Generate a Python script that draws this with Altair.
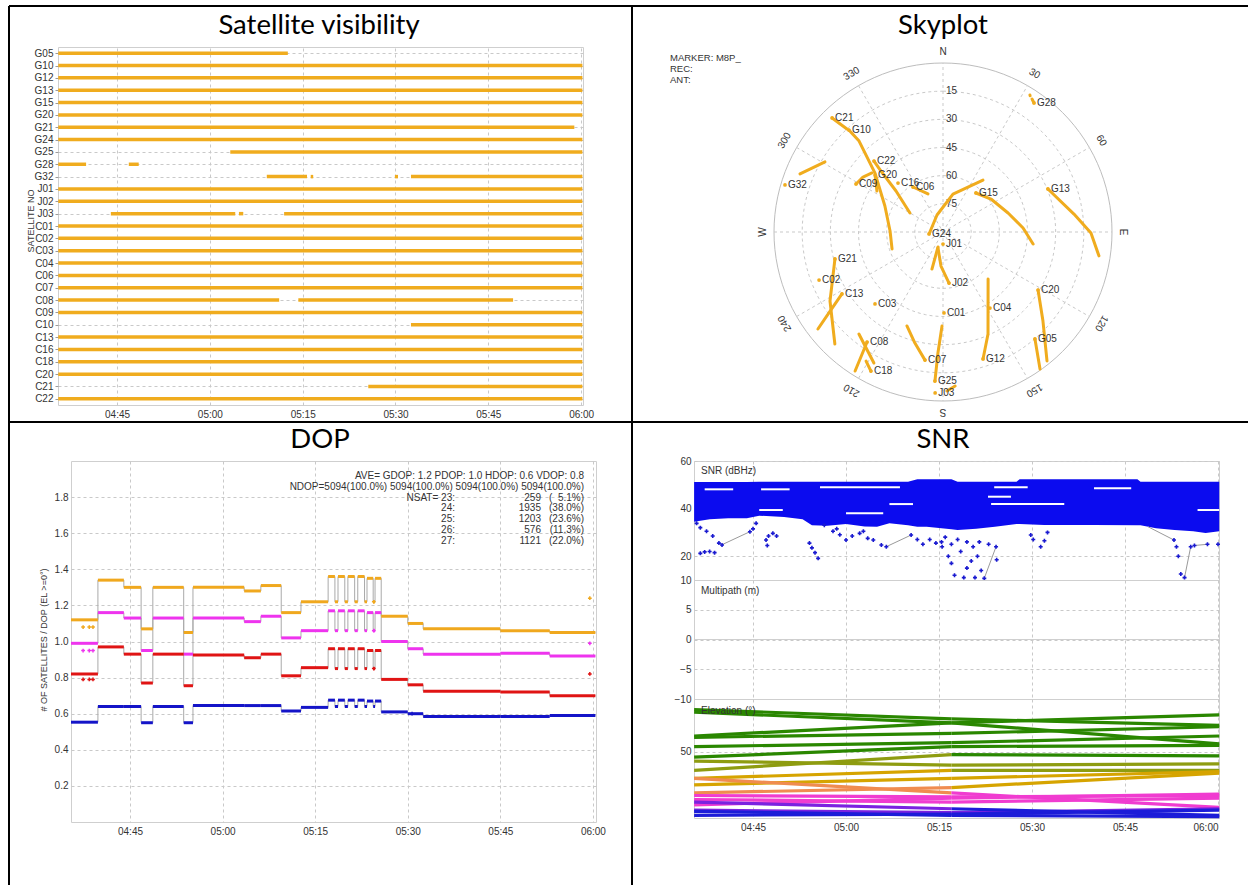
import altair as alt
import pandas as pd

# ---------------- style
FONT = "Liberation Sans"
TFONT = "Lato"
TXT = "#333333"
GRID = "#c9c9c9"
FRAME = "#cfcfcf"
ORANGE = "#F0AC1E"
BLUE = "#0b0bef"

TICKS = [45, 60, 75, 90, 105, 120]          # minutes after 04:00
LBL = "timeFormat(datetime(2000, 0, 1, 4, datum.value), '%H:%M')"

# ---------------- Panel 1: satellite visibility
SATS = ["G05", "G10", "G12", "G13", "G15", "G20", "G21", "G24", "G25", "G28", "G32",
        "J01", "J02", "J03", "C01", "C02", "C03", "C04", "C06", "C07", "C08", "C09",
        "C10", "C13", "C16", "C18", "C20", "C21", "C22"]
VIS_SAT = ["G05", "G10", "G12", "G13", "G15", "G20", "G21", "G24", "G25", "G28", "G28",
           "G32", "G32", "G32", "G32", "J01", "J02", "J03", "J03", "J03", "C01", "C02",
           "C03", "C04", "C06", "C07", "C08", "C08", "C09", "C10", "C13", "C16", "C18",
           "C20", "C21", "C22"]
VIS_START = [35.5, 35.5, 35.5, 35.5, 35.5, 35.5, 35.5, 35.5, 63.3, 35.5, 46.9,
             69.2, 76.3, 89.9, 92.5, 35.5, 35.5, 44.0, 64.7, 72.0, 35.5, 35.5,
             35.5, 35.5, 35.5, 35.5, 35.5, 74.3, 35.5, 92.5, 35.5, 35.5, 35.5,
             35.5, 85.6, 35.5]
VIS_STOP = [72.6, 120.2, 120.2, 120.2, 120.2, 120.2, 118.9, 120.2, 120.2, 40.0, 48.5,
            75.7, 76.7, 90.4, 120.2, 120.2, 120.2, 64.1, 65.4, 120.2, 120.2, 120.2,
            120.2, 120.2, 120.2, 120.2, 71.2, 109.0, 120.2, 120.2, 120.2, 120.2, 120.2,
            120.2, 120.2, 120.2]

# ---------------- Panel 2: skyplot (azimuth deg, elevation deg)
TRK_ID = (["C21"] * 2 + ["G10"] * 6 + ["C22"] * 4 + ["G20"] * 2 + ["C09"] * 3 + ["C06"] * 2 +
          ["G32b"] * 3 + ["G15"] * 5 + ["G24"] * 4 + ["G13"] * 4 + ["G28"] * 2 + ["G28b"] * 2 +
          ["J01b"] * 2 + ["J02"] * 3 + ["G12"] * 3 + ["C20"] * 3 + ["G05"] * 2 + ["C07"] * 3 +
          ["G25"] * 3 + ["J03b"] * 2 + ["G21"] * 3 + ["C13"] * 3 + ["C08"] * 2 + ["C08b"] * 2 +
          ["C18"] * 2)
TRK_AZ = [315.8, 317.0,
          317.3, 317.3, 310.9, 294.1, 271.1, 251.6,
          315.8, 314.5, 311.1, 299.9,
          310.0, 301.8,
          298.9, 304.5, 309.7,
          326.3, 338.5,
          292.1, 296.0, 300.7,
          40.2, 55.5, 73.7, 87.1, 97.6,
          261.9, 340.6, 14.7, 37.6,
          67.7, 82.2, 90.4, 98.7,
          35.2, 33.8,
          32.4, 32.6,
          198.4, 196.6,
          173.3, 183.4, 197.4,
          162.5, 156.2, 136.2,
          121.4, 131.7, 141.1,
          139.3, 144.7,
          188.0, 194.2, 201.0,
          183.1, 182.4, 180.6,
          178.6, 175.5,
          256.0, 238.6, 224.0,
          238.5, 235.0, 232.2,
          214.6, 212.3,
          219.5, 207.8,
          207.4, 210.8]
TRK_EL = [5.3, 15.0,
          16.1, 24.1, 42.1, 56.1, 61.8, 61.4,
          37.3, 43.7, 56.8, 69.7,
          42.8, 48.6,
          37.1, 38.3, 40.8,
          61.2, 68.2,
          7.8, 12.4, 16.9,
          62.8, 59.0, 53.9, 47.3, 41.6,
          82.5, 80.4, 69.1, 55.1,
          29.6, 19.6, 11.2, 6.0,
          5.9, 4.8,
          3.6, 3.9,
          81.6, 69.4,
          62.6, 71.8, 81.1,
          19.1, 30.6, 55.3,
          30.7, 18.7, 1.8,
          14.9, 0.6,
          21.1, 29.0, 36.4,
          10.5, 25.5, 39.9,
          5.3, 7.7,
          30.7, 19.5, 7.1,
          26.9, 16.6, 5.7,
          18.8, 2.4,
          19.6, 11.1,
          6.6, 10.0]
LAB_NAME = ["C21", "G10", "C22", "G20", "C09", "C16", "C06", "G32", "G15", "G24",
            "G13", "G28", "J01", "J02", "C01", "C04", "G12", "C20", "G05", "C07",
            "G25", "J03", "C03", "C02", "G21", "C13", "C08", "C18"]
LAB_AZ = [315.8, 317.3, 315.8, 310.0, 298.9, 317.4, 326.3, 286.6, 40.2, 261.9,
          67.7, 35.2, 180.0, 173.3, 179.3, 148.3, 162.5, 121.4, 139.3, 188.0,
          183.1, 182.8, 223.4, 248.8, 256.0, 238.5, 214.6, 207.4]
LAB_EL = [5.3, 16.1, 37.3, 42.8, 37.1, 54.6, 61.2, 2.2, 62.8, 82.5,
          29.6, 5.9, 83.6, 62.6, 46.9, 42.4, 19.1, 30.7, 14.9, 21.1,
          10.5, 4.2, 37.3, 19.2, 30.7, 26.9, 18.8, 6.6]
RING_EL = [15, 30, 45, 60, 75]
AZ_TEXT = ["N", "30", "60", "E", "120", "150", "S", "210", "240", "W", "300", "330"]
AZ_DEG = [0, 30, 60, 90, 120, 150, 180, 210, 240, 270, 300, 330]

# ---------------- Panel 3: DOP step segments (minutes after 04:00)
DOP_T0 = [35.44, 39.8, 44.0, 46.8, 48.7, 53.7, 55.2, 63.5, 66.2, 69.5, 72.7, 77.1, 78.2, 78.7,
          79.8, 80.3, 81.4, 81.9, 83.0, 83.4, 84.4, 84.7, 85.7, 90.0, 92.5, 105.0, 113.0]
DOP_T1 = [39.8, 44.0, 46.8, 48.7, 53.7, 55.2, 63.5, 66.2, 69.5, 72.7, 77.1, 78.2, 78.7, 79.8,
          80.3, 81.4, 81.9, 83.0, 83.4, 84.4, 84.7, 85.7, 90.0, 92.5, 105.0, 113.0, 120.4]
GDOP = [1.12, 1.34, 1.30, 1.07, 1.30, 1.05, 1.30, 1.28, 1.31, 1.16, 1.22,
        1.36, 1.22, 1.36, 1.22, 1.36, 1.22, 1.36, 1.22, 1.35, 1.22, 1.35,
        1.14, 1.10, 1.07, 1.06, 1.05]
PDOP = [0.99, 1.16, 1.13, 0.95, 1.13, 0.93, 1.13, 1.11, 1.14, 1.02, 1.06,
        1.17, 1.06, 1.17, 1.06, 1.17, 1.06, 1.17, 1.06, 1.16, 1.06, 1.16,
        1.00, 0.96, 0.93, 0.935, 0.92]
VDOP = [0.82, 0.97, 0.93, 0.77, 0.93, 0.755, 0.925, 0.91, 0.93, 0.81, 0.855,
        0.96, 0.85, 0.96, 0.85, 0.96, 0.85, 0.96, 0.85, 0.95, 0.85, 0.95,
        0.79, 0.76, 0.725, 0.72, 0.70]
HDOP = [0.553, 0.64, 0.64, 0.55, 0.64, 0.55, 0.645, 0.645, 0.645, 0.615, 0.635,
        0.675, 0.64, 0.675, 0.64, 0.675, 0.64, 0.675, 0.64, 0.67, 0.64, 0.67,
        0.61, 0.60, 0.585, 0.585, 0.59]
# isolated epochs drawn as small crosses
DOT_S = ["GDOP", "GDOP", "GDOP", "PDOP", "PDOP", "PDOP", "VDOP", "VDOP", "VDOP",
         "GDOP", "PDOP", "VDOP", "GDOP", "PDOP", "VDOP", "HDOP"]
DOT_T = [37.4, 38.4, 39.0, 37.4, 38.4, 39.0, 37.4, 38.4, 39.0,
         84.5, 84.5, 84.5, 119.5, 119.5, 119.5, 90.7]
DOT_V = [1.08, 1.08, 1.08, 0.95, 0.95, 0.95, 0.79, 0.79, 0.79,
         1.22, 1.06, 0.85, 1.24, 0.99, 0.82, 0.60]
NSAT = ["23:", "24:", "25:", "26:", "27:"]
NSAT_N = ["259", "1935", "1203", "576", "1121"]
NSAT_P = ["(\u20075.1%)", "(38.0%)", "(23.6%)", "(11.3%)", "(22.0%)"]

# ---------------- Panel 4: SNR / elevation
SNR_T = [35.5, 38.0, 41.0, 44.0, 46.0, 50.0, 53.0, 54.5, 57.0, 60.0, 63.0, 65.0, 67.0, 70.0,
         71.5, 73.0, 75.4, 77.0, 78.0, 81.0, 84.0, 87.5, 88.0, 92.0, 100.0, 107.0, 107.5,
         110.0, 113.0, 116.0, 118.0, 120.2]
SNR_TOP = [51.2, 51.2, 51.2, 51.2, 51.3, 51.3, 51.3, 51.3, 51.3, 51.3, 51.3, 51.3, 51.3, 51.3,
           52.3, 52.3, 52.3, 52.3, 51.3, 51.3, 51.3, 51.3, 52.3, 52.3, 52.3, 52.3, 51.3,
           51.3, 51.3, 51.3, 51.3, 51.3]
SNR_BOT = [34.5, 35.5, 35.9, 35.9, 37.0, 36.5, 35.5, 33.0, 32.8, 33.5, 32.5, 32.4, 33.8, 33.0,
           32.4, 32.4, 31.7, 31.3, 31.0, 31.5, 32.4, 33.5, 33.5, 33.1, 33.1, 33.0, 33.0,
           31.7, 31.0, 30.5, 29.8, 30.5]
PT_T = [35.9, 36.5, 37.5, 38.5, 39.5, 40.0, 36.5, 37.2, 38.0, 38.8, 44.5, 45.0, 45.5,
        47.1, 47.5, 48.2, 48.8, 47.3, 54.1, 54.5, 55.0, 55.5, 56.5, 57.9, 58.5, 59.0,
        60.0, 61.0, 62.2, 62.8, 63.5, 64.4, 65.7, 66.5, 70.5, 71.5, 72.4, 73.5, 74.5,
        75.4, 75.5, 76.0, 76.5, 77.0, 77.0, 77.5, 78.0, 78.5, 79.0, 79.5, 79.5, 80.2,
        80.5, 80.8, 81.2, 81.5, 81.8, 82.3, 83.0, 84.2, 84.3, 89.8, 90.2, 91.4, 92.0,
        92.5, 112.9, 113.3, 113.6, 114.0, 114.6, 115.6, 116.2, 118.3, 120.0]
PT_V = [33.8, 32.0, 30.5, 28.5, 25.5, 24.7, 21.2, 21.8, 22.0, 21.5, 30.3, 31.5, 33.8,
        26.8, 28.5, 29.6, 28.5, 24.5, 25.5, 23.5, 21.5, 19.1, 33.0, 30.5, 31.5, 29.0,
        26.8, 28.5, 29.6, 30.5, 27.5, 26.8, 24.7, 24.0, 28.9, 27.0, 25.0, 27.0, 25.5,
        26.0, 24.0, 28.0, 20.0, 17.0, 25.0, 12.0, 27.0, 22.0, 11.0, 15.0, 26.0, 18.0,
        24.0, 11.0, 20.0, 26.0, 14.0, 10.7, 25.0, 24.0, 18.5, 28.9, 27.0, 24.0, 26.5,
        30.0, 26.8, 24.0, 20.0, 12.5, 11.0, 24.0, 24.5, 25.0, 25.0]
GL_T0 = [39.9, 66.5, 82.3, 108.7, 114.6, 116.2]
GL_V0 = [24.7, 24.0, 10.7, 32.4, 11.0, 24.5]
GL_T1 = [44.5, 70.5, 84.2, 112.9, 115.6, 118.3]
GL_V1 = [30.3, 28.9, 24.0, 26.8, 24.0, 25.0]
WS_T0 = [37.2, 46.3, 55.8, 46.0, 67.0, 83.9, 82.9, 83.4, 116.7, 100.0, 60.0]
WS_T1 = [41.8, 50.9, 68.7, 49.8, 70.8, 89.3, 86.6, 95.2, 120.2, 106.0, 66.0]
WS_V = [48.1, 48.1, 49.0, 39.4, 41.9, 49.0, 45.0, 41.9, 39.4, 48.5, 38.0]
EL_T = [35.5, 77.0, 120.2]
EL_A = [82, 80, 62, 61, 54, 46, 43, 36, 30, 25, 30, 19, 17, 14, 10, 6, 2, 12, 5]
EL_B = [75, 72, 72, 64, 57, 54, 40, 48, 36, 30, 19, 23, 16, 12, 15, 4, 3, 7, 2]
EL_C = [70, 56, 78, 69, 62, 55, 41, 47, 36, 35, 8, 34, 17, 15, 18, 7, 6, 2, 1]

ONE = pd.DataFrame({"k": [0]})


def txt(text, x, y, size=10, align="left", baseline="middle", font=FONT, color=TXT, angle=0):
    return alt.Chart(ONE).mark_text(text=text, align=align, baseline=baseline, font=font,
                                    fontSize=size, color=color, angle=angle).encode(
        x=alt.value(x), y=alt.value(y))


def hline(x1, x2, y, color="black", w=2):
    return alt.Chart(ONE).mark_rule(color=color, strokeWidth=w).encode(
        x=alt.value(x1), x2=alt.value(x2), y=alt.value(y))


def vline(x, y1, y2, color="black", w=2):
    return alt.Chart(ONE).mark_rule(color=color, strokeWidth=w).encode(
        x=alt.value(x), y=alt.value(y1), y2=alt.value(y2))


def xaxis(labels=True):
    return alt.Axis(values=TICKS, labelExpr=LBL, title=None, grid=True, gridColor=GRID,
                    gridDash=[3, 3], domain=False, ticks=False, labels=labels, labelPadding=4,
                    labelFont=FONT, labelFontSize=10, labelColor=TXT)


def yaxis(values, fmt=None, ticks=False):
    kw = dict(values=values, title=None, grid=True, gridColor=GRID, gridDash=[3, 3],
              domain=False, ticks=ticks, labelPadding=3, labelFont=FONT, labelFontSize=10,
              labelColor=TXT)
    if fmt:
        kw["format"] = fmt
    return alt.Axis(**kw)


TITLE = dict(size=27.5, align="center", baseline="alphabetic", font=TFONT, color="black")

# ================= Panel 1
vis = pd.DataFrame({"sat": VIS_SAT, "t0": VIS_START, "t1": VIS_STOP})
p1_bars = alt.Chart(vis).mark_rule(color=ORANGE, strokeWidth=3.5).encode(
    x=alt.X("t0:Q", scale=alt.Scale(domain=[35.46, 120.3], nice=False, zero=False), axis=xaxis()),
    x2="t1:Q",
    y=alt.Y("sat:N", scale=alt.Scale(domain=SATS, type="point", padding=0.5),
            axis=alt.Axis(title=None, grid=True, gridColor=GRID, gridDash=[3, 3], domain=False,
                          ticks=True, tickSize=3, tickColor="#9a9a9a", labelPadding=2,
                          labelFont=FONT, labelFontSize=10, labelColor=TXT)))
p1 = alt.layer(
    p1_bars,
    hline(-49, 1190, -41), vline(-49, -41, 838), vline(574, -41, 838), hline(-49, 1190, 375),
    txt("Satellite visibility", 261, -13, **TITLE),
    txt("SATELLITE NO", -27, 174, size=9, align="center", angle=270),
).properties(width=525, height=358)

# ================= Panel 2
P2 = 370
HALF = (P2 / 2) / (169.0 / 90.0)
SX = alt.X("sx:Q", scale=alt.Scale(domain=[-HALF, HALF], nice=False, zero=False), axis=None)
SY = alt.Y("sy:Q", scale=alt.Scale(domain=[-HALF, HALF], nice=False, zero=False), axis=None)


def sky(ch):
    return ch.transform_calculate(
        sx="(90 - datum.el) * sin(datum.az * PI / 180)",
        sy="(90 - datum.el) * cos(datum.az * PI / 180)")


circle_az = list(range(0, 361, 3))
rings = pd.DataFrame({"ring": [r for r in RING_EL for _ in circle_az],
                      "az": circle_az * len(RING_EL),
                      "el": [r for r in RING_EL for _ in circle_az]})
outer = pd.DataFrame({"ring": 0, "az": circle_az, "el": 0})
radial = pd.DataFrame({"id": [a for a in AZ_DEG for _ in range(2)],
                       "az": [a for a in AZ_DEG for _ in range(2)],
                       "el": [90, 0] * len(AZ_DEG)})
azlab = pd.DataFrame({"lab": AZ_TEXT, "az": AZ_DEG,
                      "el": [-5.8 if t in "NESW" else -7.4 for t in AZ_TEXT]})
ellab = pd.DataFrame({"lab": [str(r) for r in RING_EL], "az": 0, "el": RING_EL})
trk = pd.DataFrame({"id": TRK_ID, "az": TRK_AZ, "el": TRK_EL, "i": range(len(TRK_ID))})
lab = pd.DataFrame({"lab": LAB_NAME, "az": LAB_AZ, "el": LAB_EL})

p2 = alt.layer(
    sky(alt.Chart(rings).mark_line(color=GRID, strokeWidth=1, strokeDash=[3, 3])).encode(
        x=SX, y=SY, detail="ring:N", order="az:Q"),
    sky(alt.Chart(outer).mark_line(color="#bdbdbd", strokeWidth=1)).encode(
        x=SX, y=SY, order="az:Q"),
    sky(alt.Chart(radial).mark_line(color=GRID, strokeWidth=1, strokeDash=[3, 3])).encode(
        x=SX, y=SY, detail="id:N"),
    sky(alt.Chart(azlab).mark_text(font=FONT, fontSize=10, color=TXT, align="center",
                                   baseline="middle")).encode(
        x=SX, y=SY, text="lab:N", angle=alt.Angle("az:Q", scale=None)),
    sky(alt.Chart(ellab).mark_text(font=FONT, fontSize=10, color=TXT, align="left",
                                   baseline="middle", dx=3)).encode(x=SX, y=SY, text="lab:N"),
    sky(alt.Chart(trk).mark_line(color=ORANGE, strokeWidth=3, strokeCap="round",
                                 strokeJoin="round")).encode(
        x=SX, y=SY, detail="id:N", order="i:Q"),
    sky(alt.Chart(lab).mark_circle(color=ORANGE, size=14, opacity=1)).encode(x=SX, y=SY),
    sky(alt.Chart(lab).mark_text(font=FONT, fontSize=10, color=TXT, align="left",
                                 baseline="middle", dx=3)).encode(x=SX, y=SY, text="lab:N"),
    txt("MARKER: M8P_", -88, 11, size=9.5),
    txt("REC:", -88, 22, size=9.5),
    txt("ANT:", -88, 33, size=9.5),
    txt("Skyplot", 185, -13, **TITLE),
).properties(width=P2, height=P2, view=alt.ViewBackground(stroke="transparent"))

# ================= Panel 3
DOP_NAMES = ["GDOP", "PDOP", "VDOP", "HDOP"]
DOP_COLORS = ["#F0A81E", "#EE34EE", "#E01414", "#1414C8"]
seg_rows, path_rows = [], []
for name, vals in zip(DOP_NAMES, [GDOP, PDOP, VDOP, HDOP]):
    for k, (a, b, v) in enumerate(zip(DOP_T0, DOP_T1, vals)):
        seg_rows.append({"s": name, "t0": a, "t1": b, "v": v})
        path_rows.append({"s": name, "t0": a, "v": v, "o": 2 * k})
        path_rows.append({"s": name, "t0": b, "v": v, "o": 2 * k + 1})
dseg = pd.DataFrame(seg_rows)
dpath = pd.DataFrame(path_rows)
ddots = pd.DataFrame({"s": DOT_S, "t0": DOT_T, "v": DOT_V})
DX = alt.X("t0:Q", scale=alt.Scale(domain=[35.44, 120.5], nice=False, zero=False), axis=xaxis())
DY = alt.Y("v:Q", scale=alt.Scale(domain=[0, 2], nice=False, zero=False),
           axis=yaxis([0.2, 0.4, 0.6, 0.8, 1.0, 1.2, 1.4, 1.6, 1.8], ".1f"))
DCOL = alt.Color("s:N", scale=alt.Scale(domain=DOP_NAMES, range=DOP_COLORS), legend=None)

dop_text = [txt("AVE= GDOP: 1.2 PDOP: 1.0 HDOP: 0.6 VDOP: 0.8", 513, 15, align="right"),
            txt("NDOP=5094(100.0%) 5094(100.0%) 5094(100.0%) 5094(100.0%)", 513, 26, align="right")]
for k, (a, b, c) in enumerate(zip(NSAT, NSAT_N, NSAT_P)):
    yy = 36.7 + k * 10.75
    dop_text.append(txt(("NSAT= " if k == 0 else "") + a, 384, yy, align="right"))
    dop_text.append(txt(b, 470, yy, align="right"))
    dop_text.append(txt(c, 513, yy, align="right"))

p3 = alt.layer(
    alt.Chart(dpath).mark_line(color="#a9a9a9", strokeWidth=1).encode(
        x=DX, y=DY, detail="s:N", order="o:Q"),
    alt.Chart(dseg).mark_rule(strokeWidth=3).encode(x=DX, x2="t1:Q", y=DY, color=DCOL),
    alt.Chart(ddots).mark_point(shape="cross", filled=True, size=14, opacity=1).encode(
        x=DX, y=DY, color=DCOL),
    *dop_text,
    txt("DOP", 249, -13, **TITLE),
    txt("# OF SATELLITES / DOP (EL >=0\u00b0)", -27.5, 179, size=9, align="center", angle=270),
).properties(width=525, height=361)

# ================= Panel 4
S_XS = alt.Scale(domain=[35.48, 120.16], nice=False, zero=False)
band = pd.DataFrame({"t": SNR_T, "top": SNR_TOP, "bot": SNR_BOT})
pts = pd.DataFrame({"t": PT_T, "v": PT_V})
gl = pd.DataFrame({"t": GL_T0, "v": GL_V0, "t2": GL_T1, "v2": GL_V1})
ws = pd.DataFrame({"t": WS_T0, "t2": WS_T1, "v": WS_V})
SNR_YS = alt.Scale(domain=[10, 60], nice=False, zero=False)
SNR_YA = yaxis([10, 20, 40, 60])
snr = alt.layer(
    alt.Chart(band).mark_area(color=BLUE, opacity=1).encode(
        x=alt.X("t:Q", scale=S_XS, axis=xaxis(False)),
        y=alt.Y("top:Q", scale=SNR_YS, axis=SNR_YA), y2="bot:Q"),
    alt.Chart(ws).mark_rule(color="white", strokeWidth=2).encode(
        x=alt.X("t:Q", scale=S_XS, axis=xaxis(False)), x2="t2:Q",
        y=alt.Y("v:Q", scale=SNR_YS, axis=SNR_YA)),
    alt.Chart(gl).mark_rule(color="#9a9a9a", strokeWidth=1).encode(
        x=alt.X("t:Q", scale=S_XS, axis=xaxis(False)), x2="t2:Q",
        y=alt.Y("v:Q", scale=SNR_YS, axis=SNR_YA), y2="v2:Q"),
    alt.Chart(pts).mark_point(shape="cross", filled=True, size=16, color="#1a1ad0", opacity=1).encode(
        x=alt.X("t:Q", scale=S_XS, axis=xaxis(False)),
        y=alt.Y("v:Q", scale=SNR_YS, axis=SNR_YA)),
    txt("SNR (dBHz)", 7, 10),
    txt("SNR", 249, -13, **TITLE),
).properties(width=525, height=119)

MP_ZERO = pd.DataFrame({"t": [60.0], "v": [0.0]})
MP_YS = alt.Scale(domain=[-10, 10], nice=False, zero=False)
MP_YA = yaxis([-10, -5, 0, 5])
mp = alt.layer(
    alt.Chart(MP_ZERO).mark_point(opacity=0).encode(
        x=alt.X("t:Q", scale=S_XS, axis=xaxis(False)),
        y=alt.Y("v:Q", scale=MP_YS, axis=MP_YA)),
    alt.Chart(MP_ZERO).mark_rule(color=FRAME, strokeWidth=1).encode(
        y=alt.Y("v:Q", scale=MP_YS, axis=MP_YA)),
    txt("Multipath (m)", 7, 11),
).properties(width=525, height=119)

el_rows = []
for k, (a, b, c) in enumerate(zip(EL_A, EL_B, EL_C)):
    vals = [a, b, c]
    for j in range(2):
        el_rows.append({"sat": k, "t0": EL_T[j], "t1": EL_T[j + 1], "e0": vals[j],
                        "e1": vals[j + 1], "em": (vals[j] + vals[j + 1]) / 2})
eldf = pd.DataFrame(el_rows)
EL_COLORS = ["#1c1cd8", "#7a22e0", "#f03cd0", "#f08c50", "#d6a400", "#8e9c10", "#2a8700"]
el = alt.layer(
    alt.Chart(eldf).mark_rule(strokeWidth=3.2).encode(
        x=alt.X("t0:Q", scale=S_XS, axis=xaxis(True)), x2="t1:Q",
        y=alt.Y("e0:Q", scale=alt.Scale(domain=[0, 90], nice=False, zero=False), axis=yaxis([50])),
        y2="e1:Q",
        color=alt.Color("em:Q", scale=alt.Scale(type="threshold", domain=[5, 10, 20, 27, 35, 45],
                                                range=EL_COLORS), legend=None)),
    txt("Elevation (\u00b0)", 7, 12),
).properties(width=525, height=119)

IND = dict(x="independent", y="independent", color="independent")
p4 = alt.vconcat(snr, mp, el, spacing=0, bounds="flush").resolve_scale(**IND)

spacer = alt.Chart(ONE).mark_point(opacity=0).encode(x=alt.value(0), y=alt.value(0)).properties(
    width=1, height=1, view=alt.ViewBackground(stroke="transparent"))

row1 = alt.hconcat(p1, p2, spacing=175, bounds="flush").resolve_scale(**IND)
inner = alt.hconcat(p3, p4, spacing=98, bounds="flush").resolve_scale(**IND)
row2 = alt.hconcat(spacer, inner, spacing=12, bounds="flush").resolve_scale(**IND)

# nested concat groups count as zero height in a flush layout, so the gap spans row 1
chart = alt.vconcat(row1, row2, spacing=414, bounds="flush").resolve_scale(**IND).properties(
    padding={"left": 7, "top": 4, "right": 0, "bottom": 0}, background="white"
).configure_view(stroke=FRAME, strokeWidth=1)

chart.save("out.html", embed_options={"renderer": "svg", "actions": False})
